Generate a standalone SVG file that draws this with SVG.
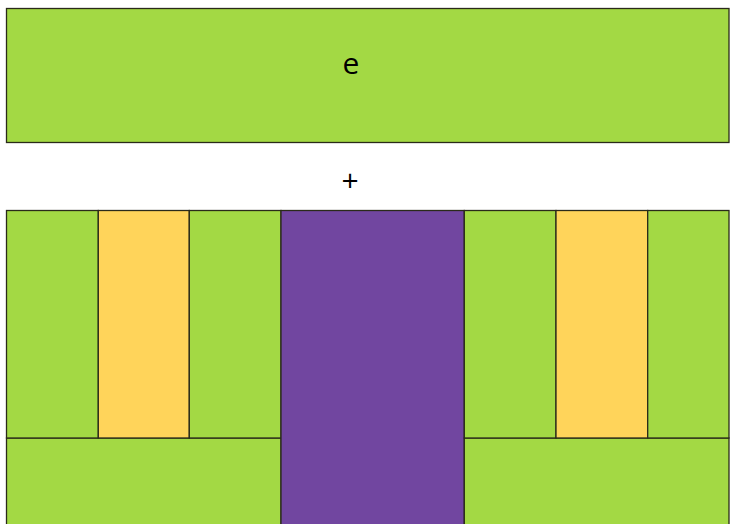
<svg xmlns="http://www.w3.org/2000/svg" width="730" height="524" viewBox="0 0 730 524">
<style>
.g{fill:#a3d944;stroke:#2a2a1a;stroke-width:1.3}
.y{fill:#ffd45a;stroke:#2a2a1a;stroke-width:1.3}
.p{fill:#7146a0;stroke:#2a2a1a;stroke-width:1.3}
.t{font-family:"Open Sans","Liberation Sans",sans-serif;font-size:30px;fill:#000;text-anchor:middle}
</style>
<rect width="730" height="524" fill="#fff"/>
<g id="e">
<rect class="g" x="6.5" y="8.5" width="722.5" height="134"/>
<text class="t" x="351" y="74">e</text>
</g>
<g id="plus"><text class="t" x="350" y="191">+</text></g>
<g id="left-bottom"><rect class="g" x="6.5" y="438" width="274.5" height="90"/></g>
<g id="left-g1"><rect class="g" x="6.5" y="210.5" width="91.8" height="227.5"/></g>
<g id="left-y"><rect class="y" x="98.3" y="210.5" width="91" height="227.5"/></g>
<g id="left-g2"><rect class="g" x="189.3" y="210.5" width="91.7" height="227.5"/></g>
<g id="purple"><rect class="p" x="281" y="210.5" width="183.3" height="318"/></g>
<g id="right-bottom"><rect class="g" x="464.3" y="438" width="264.7" height="90"/></g>
<g id="right-g1"><rect class="g" x="464.3" y="210.5" width="91.7" height="227.5"/></g>
<g id="right-y"><rect class="y" x="556" y="210.5" width="91.7" height="227.5"/></g>
<g id="right-g2"><rect class="g" x="647.7" y="210.5" width="81.3" height="227.5"/></g>
<g id="connectors"/>
</svg>
